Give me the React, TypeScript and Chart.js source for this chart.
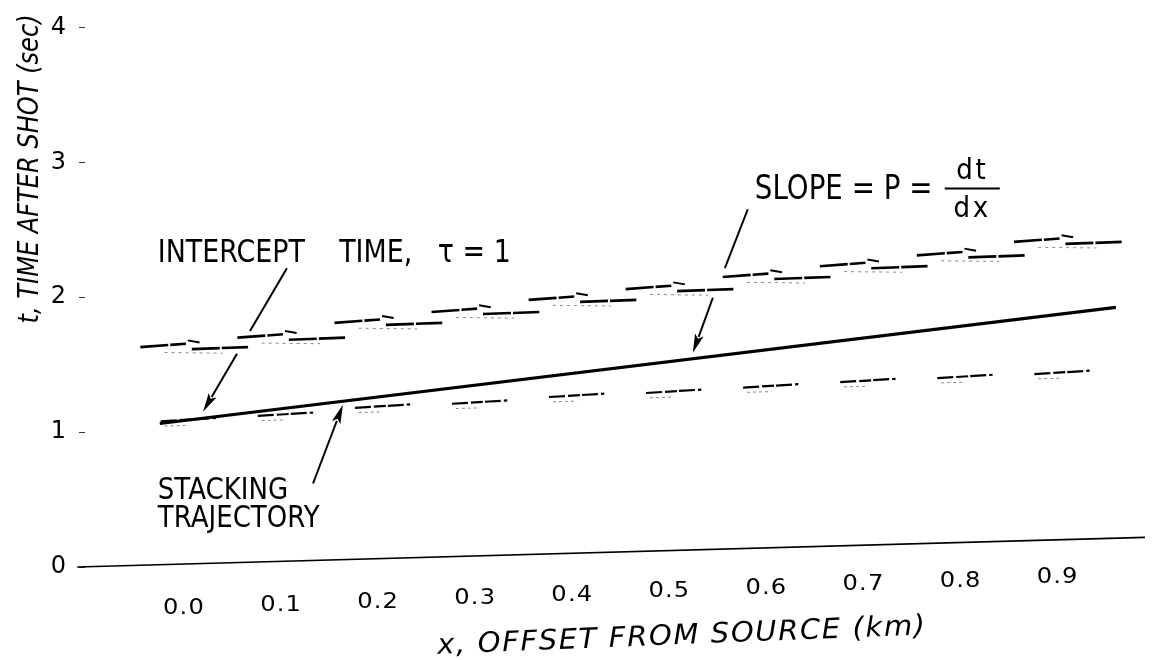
import React, { useEffect, useRef } from "react";
import { Chart, registerables } from "chart.js";

Chart.register(...registerables);

// Trace offsets (km) and the event times picked on each trace (s)
const traceOffsets = [0.0, 0.1, 0.2, 0.3, 0.4, 0.5, 0.6, 0.7, 0.8, 0.9];
const upperEventTimes = [1.62, 1.69, 1.8, 1.88, 1.97, 2.05, 2.14, 2.22, 2.3, 2.4];
const lowerEventTimes = [1.09, 1.13, 1.19, 1.22, 1.27, 1.3, 1.34, 1.38, 1.41, 1.44];

// Stacking trajectory t = tau + p x
const trajectoryX = [-0.025, 0.96];
const trajectoryT = [1.064, 1.924];

// Zero-time reference line of the record section
const baselineX = [-0.11, 0.99];
const baselineT = [0.0, 0.22];

const xTickLabels = ["0.0", "0.1", "0.2", "0.3", "0.4", "0.5", "0.6", "0.7", "0.8", "0.9"];
const yTickStep = 1;

const xTitle = "x, OFFSET FROM SOURCE (km)";
const yTitle = "t, TIME AFTER SHOT (sec)";

// Wavelet strokes drawn on each trace: [dx0, dt0, dx1, dt1] relative to (offset, time)
type Seg = [number, number, number, number];
const upperWaveletMain: Seg[] = [
  [-0.045, 0.01, 0.002, 0.035],
  [0.008, -0.005, 0.066, 0.01],
];
const upperWaveletHook: Seg[] = [[0.004, 0.06, 0.016, 0.045]];
const upperWaveletFaint: Seg[] = [[-0.02, -0.03, 0.04, -0.035]];
const lowerWaveletMain: Seg[] = [[-0.024, -0.01, 0.033, 0.015]];
const lowerWaveletFaint: Seg[] = [[-0.02, -0.045, 0.005, -0.04]];

// Annotation anchors, in data units (km, s)
const interceptNote = { text: "INTERCEPT    TIME,   τ = 1", x: -0.027, t: 2.324 };
const interceptLeader: [number, number][] = [[0.106, 2.215], [0.068, 1.749]];
const interceptArrow: [number, number][] = [[0.0546, 1.581], [0.0196, 1.151]];

const slopeNote = { text: "SLOPE = P =", x: 0.588, t: 2.791 };
const slopeFraction = { num: "dt", den: "dx", x0: 0.7837, x1: 0.8404, t: 2.805, tNum: 2.929, tDen: 2.652 };
const slopeLeader: [number, number][] = [[0.5808, 2.652], [0.5572, 2.215]];
const slopeArrow: [number, number][] = [[0.5448, 1.996], [0.5242, 1.588]];

const stackNote = { lines: ["STACKING", "TRAJECTORY"], x: -0.027, t: [0.561, 0.357] };
const stackArrow: [number, number][] = [[0.1329, 0.619], [0.1637, 1.202]];

const FONT = '"DejaVu Sans", "Liberation Sans", sans-serif';

function wavelets(times: number[], shape: Seg[]) {
  const pts: { x: number; y: number | null }[] = [];
  traceOffsets.forEach((x0, i) => {
    const t0 = times[i];
    shape.forEach(([a, b, c, d]) => {
      pts.push({ x: x0 + a, y: t0 + b }, { x: x0 + c, y: t0 + d }, { x: x0 + c, y: null });
    });
  });
  return pts;
}

function pairs(xs: number[], ts: number[]) {
  return xs.map((x, i) => ({ x, y: ts[i] }));
}

type TextOpts = {
  size: number;
  italic?: boolean;
  squeeze?: number;
  align?: CanvasTextAlign;
  rotate?: number;
  spacing?: number;
};

function drawText(ctx: CanvasRenderingContext2D, str: string, x: number, y: number, o: TextOpts) {
  ctx.save();
  ctx.translate(x, y);
  if (o.rotate) ctx.rotate(o.rotate);
  ctx.scale(o.squeeze ?? 1, 1);
  ctx.font = `${o.italic ? "italic " : ""}${o.size}px ${FONT}`;
  ctx.textAlign = o.align ?? "left";
  ctx.textBaseline = "middle";
  ctx.fillStyle = "#000";
  (ctx as any).letterSpacing = `${o.spacing ?? 0}px`;
  ctx.fillText(str, 0, 0);
  ctx.restore();
}

function drawLine(ctx: CanvasRenderingContext2D, a: number[], b: number[], w = 2) {
  ctx.save();
  ctx.strokeStyle = "#000";
  ctx.lineWidth = w;
  ctx.beginPath();
  ctx.moveTo(a[0], a[1]);
  ctx.lineTo(b[0], b[1]);
  ctx.stroke();
  ctx.restore();
}

function drawArrow(ctx: CanvasRenderingContext2D, a: number[], b: number[], head = 19, half = 4.5) {
  const dx = b[0] - a[0];
  const dy = b[1] - a[1];
  const len = Math.hypot(dx, dy);
  const ux = dx / len;
  const uy = dy / len;
  const bx = b[0] - ux * head;
  const by = b[1] - uy * head;
  drawLine(ctx, a, [bx + ux * 2, by + uy * 2], 2);
  ctx.save();
  ctx.fillStyle = "#000";
  ctx.beginPath();
  ctx.moveTo(b[0], b[1]);
  ctx.lineTo(bx - uy * half, by + ux * half);
  ctx.lineTo(bx + ux * 4, by + uy * 4);
  ctx.lineTo(bx + uy * half, by - ux * half);
  ctx.closePath();
  ctx.fill();
  ctx.restore();
}

const notesPlugin = {
  id: "figureNotes",
  afterDatasetsDraw(chart: Chart) {
    const ctx = chart.ctx;
    const xs = chart.scales.x;
    const ys = chart.scales.y;
    const P = (x: number, t: number) => [xs.getPixelForValue(x), ys.getPixelForValue(t)];

    // offset tick labels, following the sloping zero line
    const baseAt = (v: number) =>
      baselineT[0] + ((v - baselineX[0]) * (baselineT[1] - baselineT[0])) / (baselineX[1] - baselineX[0]);
    const px0 = xs.getPixelForValue(0);
    const py0 = ys.getPixelForValue(baseAt(0)) + 45;
    xTickLabels.forEach((lab) => {
      const v = parseFloat(lab);
      const px = xs.getPixelForValue(v);
      const py = py0 - (px - px0) * 0.0355;
      drawText(ctx, lab, px, py, { size: 21, squeeze: 1.15, align: "center", spacing: 1 });
    });

    // axis titles
    const [xtX, xtY] = P(0.513, -0.517);
    drawText(ctx, xTitle, xtX, xtY, { size: 28, italic: true, align: "center", rotate: -0.04, squeeze: 1.04, spacing: 1.5 });
    const [ytX, ytY] = P(-0.1576, 2.951);
    drawText(ctx, yTitle, ytX, ytY, { size: 28, italic: true, align: "center", rotate: -Math.PI / 2, squeeze: 0.86 });

    // intercept time note
    const [ix, iy] = P(interceptNote.x, interceptNote.t);
    drawText(ctx, interceptNote.text, ix, iy, { size: 32, squeeze: 0.84 });
    drawLine(ctx, P(...interceptLeader[0]), P(...interceptLeader[1]), 2);
    drawArrow(ctx, P(...interceptArrow[0]), P(...interceptArrow[1]));

    // slope note
    const [sx, sy] = P(slopeNote.x, slopeNote.t);
    drawText(ctx, slopeNote.text, sx, sy, { size: 33, squeeze: 0.84 });
    const fx = (slopeFraction.x0 + slopeFraction.x1) / 2;
    const [nx, ny] = P(fx, slopeFraction.tNum);
    drawText(ctx, slopeFraction.num, nx, ny, { size: 29, squeeze: 0.9, align: "center", spacing: 3 });
    const [dxp, dyp] = P(fx, slopeFraction.tDen);
    drawText(ctx, slopeFraction.den, dxp, dyp, { size: 29, squeeze: 0.9, align: "center", spacing: 3 });
    drawLine(ctx, P(slopeFraction.x0, slopeFraction.t), P(slopeFraction.x1, slopeFraction.t), 2);
    drawLine(ctx, P(...slopeLeader[0]), P(...slopeLeader[1]), 2);
    drawArrow(ctx, P(...slopeArrow[0]), P(...slopeArrow[1]));

    // stacking trajectory note
    stackNote.lines.forEach((line, i) => {
      const [tx, ty] = P(stackNote.x, stackNote.t[i]);
      drawText(ctx, line, tx, ty, { size: 31, squeeze: 0.84 });
    });
    drawArrow(ctx, P(...stackArrow[0]), P(...stackArrow[1]));
  },
};

export default function App() {
  const canvasRef = useRef<HTMLCanvasElement | null>(null);

  useEffect(() => {
    const canvas = canvasRef.current;
    if (!canvas) return;

    const line = (data: any[], width: number, color = "#000", dash: number[] = []) => ({
      data,
      showLine: true,
      borderColor: color,
      borderWidth: width,
      borderDash: dash,
      pointRadius: 0,
      spanGaps: false,
      borderCapStyle: "butt" as const,
    });

    const chart = new Chart(canvas, {
      type: "scatter",
      data: {
        datasets: [
          { ...line(pairs(baselineX, baselineT), 1.7), label: "zero time", clip: false as any },
          { ...line(wavelets(upperEventTimes, upperWaveletFaint), 1, "#888", [3, 4]), label: "upper event (faint)" },
          { ...line(wavelets(lowerEventTimes, lowerWaveletFaint), 1, "#888", [3, 3]), label: "lower event (faint)" },
          { ...line(wavelets(upperEventTimes, upperWaveletMain), 2.6, "#000", [28, 2]), label: "upper event" },
          { ...line(wavelets(upperEventTimes, upperWaveletHook), 2, "#000"), label: "upper event tail" },
          { ...line(wavelets(lowerEventTimes, lowerWaveletMain), 2.2, "#000", [16, 3, 12, 2]), label: "lower event" },
          { ...line(pairs(trajectoryX, trajectoryT), 3.2), label: "stacking trajectory" },
        ],
      },
      options: {
        animation: false,
        responsive: false,
        layout: { padding: { top: 18, right: 21, bottom: 93, left: 0 } },
        plugins: { legend: { display: false }, tooltip: { enabled: false }, title: { display: false } },
        scales: {
          x: { type: "linear", min: -0.102, max: 0.99, display: false },
          y: {
            type: "linear",
            min: 0,
            max: 4,
            afterFit: (s: any) => {
              s.width = 85;
            },
            border: { display: false },
            grid: { drawOnChartArea: false, drawTicks: true, tickLength: 6, color: "#333", lineWidth: 1 },
            ticks: {
              stepSize: yTickStep,
              padding: 13,
              color: "#000",
              font: { family: FONT, size: 24 },
            },
          },
        },
      },
      plugins: [notesPlugin],
    });

    return () => chart.destroy();
  }, []);

  return (
    <div style={{ position: "fixed", left: 0, top: 0, width: 1166, height: 660, background: "#fff" }}>
      <canvas ref={canvasRef} width={1166} height={660} style={{ display: "block" }} />
    </div>
  );
}
